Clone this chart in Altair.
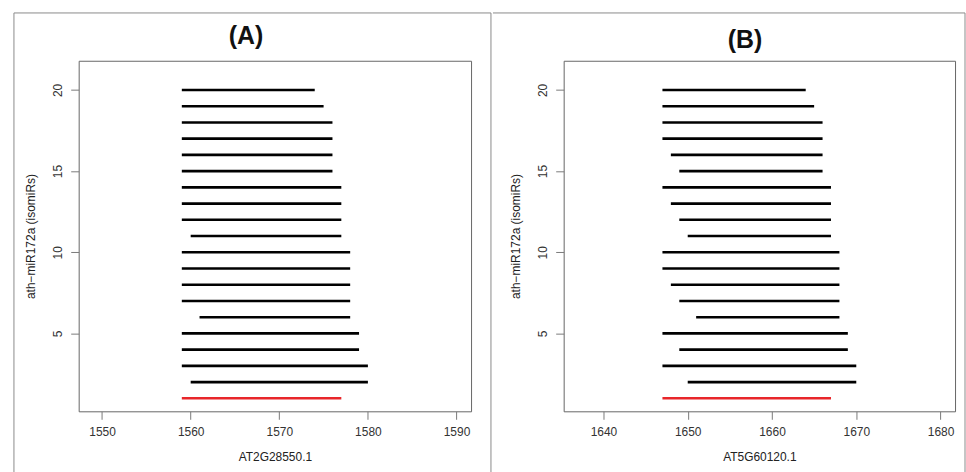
import altair as alt
import pandas as pd

rows = list(range(1, 21))

# Panel A: AT2G28550.1 (row 1 = red reference)
a_start = [1559, 1560, 1559, 1559, 1559, 1561, 1559, 1559, 1559, 1559,
           1560, 1559, 1559, 1559, 1559, 1559, 1559, 1559, 1559, 1559]
a_end = [1577, 1580, 1580, 1579, 1579, 1578, 1578, 1578, 1578, 1578,
         1577, 1577, 1577, 1577, 1576, 1576, 1576, 1576, 1575, 1574]

# Panel B: AT5G60120.1
b_start = [1647, 1650, 1647, 1649, 1647, 1651, 1649, 1648, 1647, 1647,
           1650, 1649, 1648, 1647, 1649, 1648, 1647, 1647, 1647, 1647]
b_end = [1667, 1670, 1670, 1669, 1669, 1668, 1668, 1668, 1668, 1668,
         1667, 1667, 1667, 1667, 1666, 1666, 1666, 1666, 1665, 1664]

kinds = ["ref"] + ["isomiR"] * 19

a_ticks = [1550, 1560, 1570, 1580, 1590]
b_ticks = [1640, 1650, 1660, 1670, 1680]
y_ticks = [5, 10, 15, 20]

FONT = "Liberation Sans"
GRAY = "#7a7a7a"
FRAME = "#8a8a8a"


def panel(title, xlabel, starts, ends, xdomain, xticks, w, h, border, tpos, full_box):
    df = pd.DataFrame({"row": rows, "start": starts, "end": ends, "kind": kinds})
    lines = alt.Chart(df).mark_rule(strokeWidth=2.6, strokeCap="butt").encode(
        x=alt.X("start:Q",
                scale=alt.Scale(domain=xdomain, nice=False, zero=False),
                axis=alt.Axis(values=xticks, format="d", title=xlabel, grid=False,
                              domain=False, tickColor=GRAY, tickSize=8, labelPadding=7,
                              labelFontSize=12, labelColor="#333", labelFont=FONT,
                              titleFont=FONT, titleFontSize=12, titleFontWeight="normal",
                              titleColor="#222", titlePadding=14)),
        x2="end:Q",
        y=alt.Y("row:Q",
                scale=alt.Scale(domain=[0.2, 21.8], nice=False, zero=False),
                axis=alt.Axis(values=y_ticks, title="ath\u2212miR172a (isomiRs)", grid=False,
                              domain=False, tickColor=GRAY, tickSize=8, labelPadding=6,
                              labelAngle=270, labelAlign="center", labelBaseline="bottom",
                              labelFontSize=12, labelColor="#333", labelFont=FONT,
                              titleFont=FONT, titleFontSize=12, titleFontWeight="normal",
                              titleColor="#222", titlePadding=14)),
        color=alt.Color("kind:N", scale=alt.Scale(domain=["isomiR", "ref"],
                                                  range=["#000000", "#e8262a"]),
                        legend=None),
    )
    bx0, bx1, by0, by1 = border
    one = pd.DataFrame({"k": [0]})
    layers = []
    if full_box:
        layers.append(alt.Chart(one).mark_rect(fill=None, stroke=FRAME, strokeWidth=1).encode(
            x=alt.value(bx0), x2=alt.value(bx1), y=alt.value(by0), y2=alt.value(by1)))
    else:
        # invisible frame for layout, then only top and right edges drawn
        layers.append(alt.Chart(one).mark_rect(fill=None, strokeOpacity=0).encode(
            x=alt.value(bx0), x2=alt.value(bx1), y=alt.value(by0), y2=alt.value(by1)))
        layers.append(alt.Chart(one).mark_rule(color=FRAME, strokeWidth=1).encode(
            x=alt.value(bx0 - 4), x2=alt.value(bx1), y=alt.value(by0)))
        layers.append(alt.Chart(one).mark_rule(color=FRAME, strokeWidth=1).encode(
            x=alt.value(bx1), y=alt.value(by0), y2=alt.value(by1)))
    tx, ty = tpos
    layers.append(alt.Chart(pd.DataFrame({"label": [title]})).mark_text(
        font=FONT, fontSize=25, fontWeight="bold", color="#111",
        align="center", baseline="alphabetic").encode(
        text="label:N", x=alt.value(tx), y=alt.value(ty)))
    layers.append(lines)
    return alt.layer(*layers).properties(width=w, height=h)


pa = panel("(A)", "AT2G28550.1", a_start, a_end, [1547.36, 1591.64], a_ticks,
           394, 352, (-65, 414, -48, 430), (168, -17), True)
pb = panel("(B)", "AT5G60120.1", b_start, b_end, [1635.28, 1681.72], b_ticks,
           393, 352, (-67, 403, -48, 430), (182, -13), False)

chart = alt.hconcat(pa, pb, spacing=0).properties(
    padding={"left": 13, "top": 11, "right": 0, "bottom": 0},
    background="white",
).configure_view(stroke="#666666", strokeWidth=1)

chart.save("out.html", embed_options={"renderer": "svg", "actions": False})
